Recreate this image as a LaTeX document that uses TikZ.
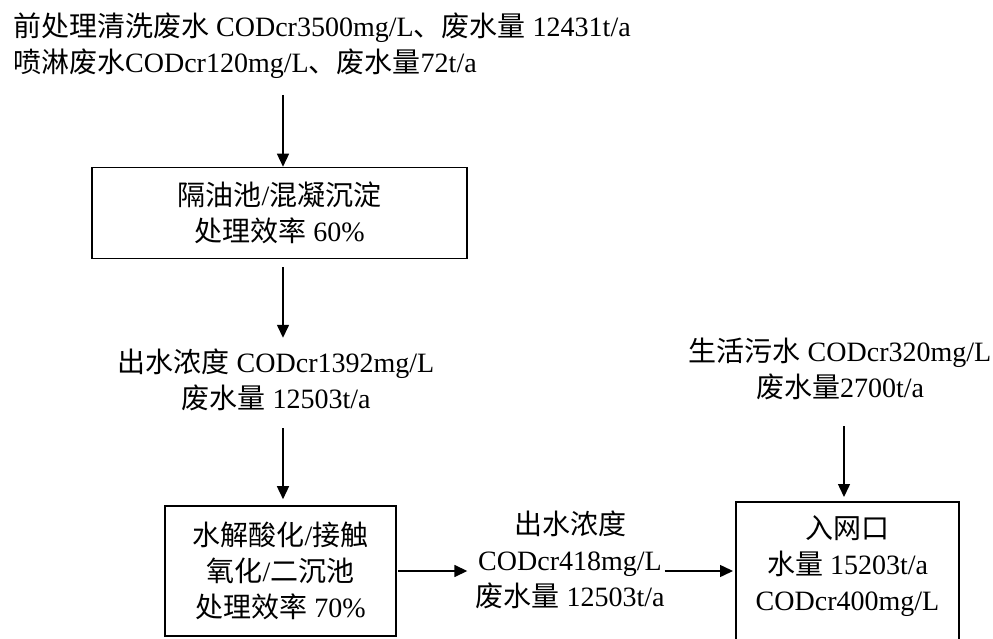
\documentclass[tikz,border=0pt]{standalone}
\usepackage{fontspec}
\setmainfont{Liberation Serif}
\newfontfamily\cjkf{Noto Sans CJK SC}
\newcommand{\zh}[1]{{\cjkf #1}}
\usetikzlibrary{arrows.meta}
\begin{document}
\begin{tikzpicture}[x=1pt,y=-1pt,
  every node/.style={font=\fontsize{28}{36}\selectfont, inner sep=0pt, align=center},
  box/.style={draw, line width=1.6pt},
  frame/.style={line width=1.6pt},
  arr/.style={line width=1.5pt, -{Triangle[length=13pt,width=12pt]}}]
\useasboundingbox (0,0) rectangle (993,639);
\clip (0,0) rectangle (993,639);

% texts and boxes
\node[anchor=west, align=left] (src) at (13,46)
  {\zh{前处理清洗废水} CODcr3500mg/L\zh{、废水量} 12431t/a\\
   \zh{喷淋废水}CODcr120mg/L\zh{、废水量}72t/a};

\node[box, minimum width=375pt, minimum height=91pt] (b1) at (279.5,213)
  {\zh{隔油池}/\zh{混凝沉淀}\\\zh{处理效率} 60\%};

\node (m1) at (276,380) {\zh{出水浓度} CODcr1392mg/L\\\zh{废水量} 12503t/a};

\node[box, minimum width=231pt, minimum height=130pt] (b2) at (280.5,571)
  {\zh{水解酸化}/\zh{接触}\\\zh{氧化}/\zh{二沉池}\\\zh{处理效率} 70\%};

\node (m2) at (570,560) {\zh{出水浓度}\\CODcr418mg/L\\\zh{废水量} 12503t/a};

\node (dom) at (840,369) {\zh{生活污水} CODcr320mg/L\\\zh{废水量}2700t/a};

\node (inlet) at (847.5,566) {\zh{入网口}\\\zh{水量} 15203t/a\\CODcr400mg/L};
\draw[frame] (736,660) |- (959,502) -- (959,660);

% connector anchors
\coordinate (a1s) at (283,95);
\coordinate (inW) at (736,571);
\coordinate (inN) at (844,502);

% connectors
\draw[arr] (a1s) -- (a1s |- b1.north);
\draw[arr] ([yshift=-8pt]b1.south -| a1s) -- ([yshift=11pt]m1.north -| a1s);
\draw[arr] ([yshift=-17pt]m1.south -| a1s) -- ([yshift=6pt]b2.north -| a1s);
\draw[arr] ([xshift=1pt]b2.east) -- ([xshift=-8pt]b2.east -| m2.west);
\draw[arr] (m2.east |- inW) -- ([xshift=-3pt]inW);
\draw[arr] ([yshift=-26pt]dom.south -| inN) -- ([yshift=5pt]inN);
\end{tikzpicture}
\end{document}
